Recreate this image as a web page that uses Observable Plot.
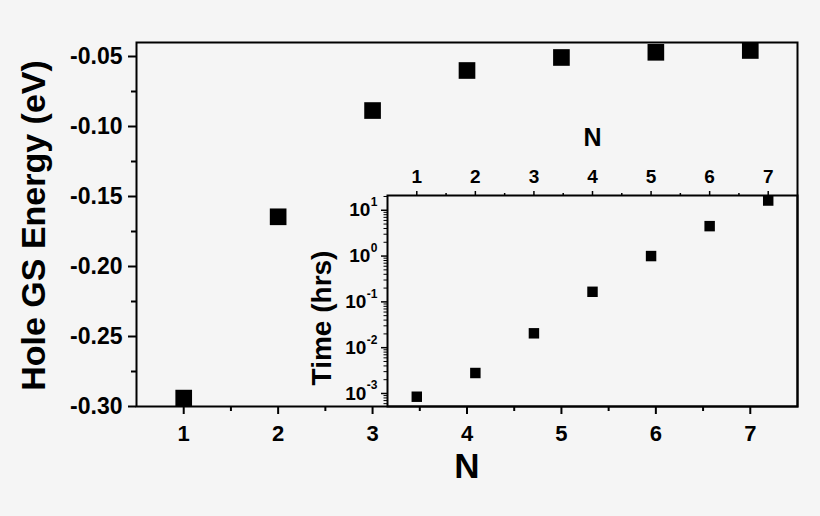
<!DOCTYPE html>
<html>
<head>
<meta charset="utf-8">
<script src="https://cdn.jsdelivr.net/npm/d3@7"></script>
<script src="https://cdn.jsdelivr.net/npm/@observablehq/plot@0.6"></script>
<style>
  html, body { margin: 0; padding: 0; background: #f5f5f5; }
  #wrap { position: relative; width: 820px; height: 516px; background: #f5f5f5; }
  #inset { position: absolute; left: 290px; top: 100px; }
</style>
</head>
<body>
<div id="wrap"><div id="main"></div><div id="inset"></div></div>
<script>
// ---- data ----
const N = [1, 2, 3, 4, 5, 6, 7];
const energy = [-0.294, -0.1645, -0.0886, -0.060, -0.0507, -0.047, -0.0457];
const timeHrs = [0.00085, 0.0028, 0.0206, 0.166, 1.0, 4.5, 16.3];
const nTicks = [1, 2, 3, 4, 5, 6, 7];
const nMinorTicks = [1.5, 2.5, 3.5, 4.5, 5.5, 6.5];
const energyTicks = [-0.30, -0.25, -0.20, -0.15, -0.10, -0.05];
const energyMinorTicks = [-0.275, -0.225, -0.175, -0.125, -0.075];
const timeTicks = [1e-3, 1e-2, 1e-1, 1, 10];
const timeExponents = ["-3", "-2", "-1", "0", "1"];

const font = "'Liberation Sans', Arial, Helvetica, sans-serif";
const mainData = N.map((n, i) => ({n, e: energy[i]}));
const insetData = N.map((n, i) => ({n, t: timeHrs[i]}));

const main = Plot.plot({
  width: 820, height: 516,
  marginLeft: 136, marginRight: 23, marginTop: 42, marginBottom: 110,
  style: {background: "transparent", fontFamily: font, fontWeight: "bold", fontSize: "22px", color: "black"},
  x: {domain: [0.5, 7.5]},
  y: {domain: [-0.30, -0.04]},
  marks: [
    Plot.frame({stroke: "black", strokeWidth: 2}),
    Plot.axisX({ticks: nTicks, tickSize: 8, tickPadding: 11, fontSize: 22, strokeWidth: 2, label: null, tickFormat: d => String(d)}),
    Plot.axisX({ticks: nMinorTicks, tickSize: 5, strokeWidth: 2, text: null, label: null}),
    Plot.axisY({ticks: energyTicks, tickSize: 8, tickPadding: 6, fontSize: 23, strokeWidth: 2, label: null, tickFormat: d => d.toFixed(2)}),
    Plot.axisY({ticks: energyMinorTicks, tickSize: 5, strokeWidth: 2, text: null, label: null}),
    Plot.dot(mainData, {x: "n", y: "e", symbol: "square", r: 9.4, fill: "black", stroke: "none"}),
    Plot.text(["N"], {frameAnchor: "bottom", dy: 60, fontSize: 35, fontWeight: "bold", textAnchor: "middle", lineAnchor: "middle"}),
    Plot.text(["Hole GS Energy (eV)"], {frameAnchor: "left", dx: -102, dy: 1, rotate: -90, fontSize: 34, fontWeight: "bold", textAnchor: "middle", lineAnchor: "middle"})
  ]
});
document.getElementById("main").appendChild(main);

const minorLog = [];
for (const d of [1e-4, 1e-3, 1e-2, 1e-1, 1, 10]) for (let k = 2; k <= 9; k++) {
  const v = d * k; if (v > 5.2e-4 && v < 21) minorLog.push(v);
}
const expW = s => Array.from(s).reduce((w, c) => w + (c === "-" ? 4 : 6.7), 0);

const inset = Plot.plot({
  width: 530, height: 320,
  marginLeft: 97, marginRight: 23, marginTop: 95, marginBottom: 14,
  style: {background: "transparent", fontFamily: font, fontWeight: "bold", fontSize: "19px", color: "black"},
  x: {domain: [0.5, 7.5]},
  y: {type: "log", domain: [5.2e-4, 21]},
  marks: [
    Plot.frame({stroke: "black", strokeWidth: 2}),
    Plot.axisX({anchor: "top", ticks: nTicks, tickSize: 5, tickPadding: 8, fontSize: 19, strokeWidth: 1.5, label: null, tickFormat: d => String(d)}),
    Plot.axisX({anchor: "top", ticks: nMinorTicks, tickSize: 3, strokeWidth: 1.5, text: null, label: null}),
    Plot.axisY({ticks: timeTicks, tickSize: 6, strokeWidth: 1.5, text: null, label: null}),
    Plot.axisY({ticks: minorLog, tickSize: 3.5, strokeWidth: 1, text: null, label: null}),
    ...timeTicks.map((v, i) => Plot.text([v], {y: d => d, frameAnchor: "left", text: () => "10", textAnchor: "end", dx: -10.5 - expW(timeExponents[i]), fontSize: 19, fontWeight: "bold"})),
    ...timeTicks.map((v, i) => Plot.text([v], {y: d => d, frameAnchor: "left", text: () => timeExponents[i], textAnchor: "end", dx: -10, dy: -8, fontSize: 12, fontWeight: "bold"})),
    Plot.dot(insetData, {x: "n", y: "t", symbol: "square", r: 5.9, fill: "black", stroke: "none"}),
    Plot.text(["N"], {frameAnchor: "top", dy: -58, fontSize: 25, fontWeight: "bold", textAnchor: "middle", lineAnchor: "middle"}),
    Plot.text(["Time (hrs)"], {frameAnchor: "left", dx: -65, dy: 17, rotate: -90, fontSize: 28, fontWeight: "bold", textAnchor: "middle", lineAnchor: "middle"})
  ]
});
document.getElementById("inset").appendChild(inset);
</script>
</body>
</html>
